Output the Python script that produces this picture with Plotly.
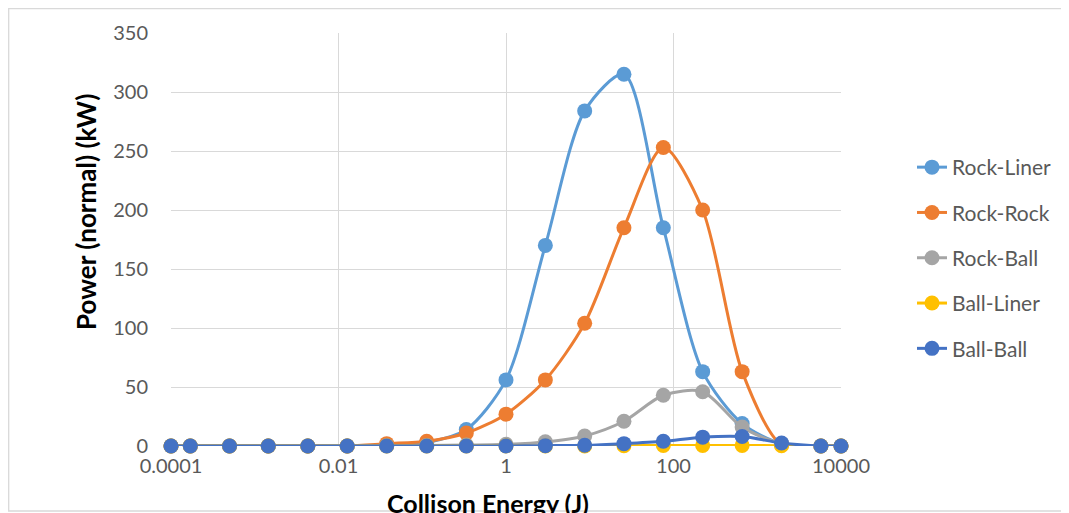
import plotly.graph_objects as go

# Collision energy (J) – x categories (log scale)
energy = [0.0001, 0.00017, 0.0005, 0.00145, 0.0043, 0.0127, 0.0376, 0.113, 0.336,
          1, 2.95, 8.7, 25.6, 75.6, 223, 660, 1950, 5750, 10000]

rock_liner = [0, 0, 0, 0, 0, 0, 0.5, 3, 14, 56, 170, 284, 315, 185, 63, 19, 2, 0, 0]
rock_rock = [0, 0, 0, 0, 0, 0, 2, 4, 11, 27, 56, 104, 185, 253, 200, 63, 1, 0, 0]
rock_ball = [0, 0, 0, 0, 0, 0, 0.3, 0.5, 0.8, 1.5, 3.5, 8.5, 21, 43, 46, 16, 2, 0, 0]
ball_liner = [0, 0, 0, 0, 0, 0, 0, 0, 0, 0, 0, 0, 0.3, 0.4, 0.5, 0.5, 0.3, 0, 0]
ball_ball = [0, 0, 0, 0, 0, 0, 0, 0, 0, 0, 0.3, 0.6, 2, 4, 7.5, 8, 2.5, 0, 0]

series_names = ["Rock-Liner", "Rock-Rock", "Rock-Ball", "Ball-Liner", "Ball-Ball"]
series_values = [rock_liner, rock_rock, rock_ball, ball_liner, ball_ball]
colors = ["#5B9BD5", "#ED7D31", "#A5A5A5", "#FFC000", "#4472C4"]

x_tick_vals = [0.0001, 0.01, 1, 100, 10000]
x_tick_text = ["0.0001", "0.01", "1", "100", "10000"]
y_tick_vals = [0, 50, 100, 150, 200, 250, 300, 350]

FONT = "Lato, Carlito, Calibri, sans-serif"

# page is offset by the browser's 8px body margin
W, H = 1061, 505
L, T, PW, PH = 163, 25, 670, 413
R = W - L - PW
B = H - T - PH


def px(xf):
    return (xf - L) / PW


def py(yf):
    return (T + PH - yf) / PH


fig = go.Figure()
for name, vals, col in zip(series_names, series_values, colors):
    fig.add_trace(go.Scatter(
        x=energy, y=vals, name=name, mode="lines+markers",
        line=dict(color=col, width=3, shape="spline", smoothing=0.8),
        marker=dict(color=col, size=15),
        cliponaxis=False, legendgroup=name,
    ))

fig.update_layout(
    width=W, height=H,
    margin=dict(l=L, r=R, t=T, b=B),
    paper_bgcolor="white", plot_bgcolor="white",
    font=dict(family=FONT, size=20, color="#595959"),
    showlegend=True,
    legend=dict(
        x=px(904), xanchor="left", y=py(250), yanchor="middle",
        font=dict(family=FONT, size=21, color="#595959"),
        tracegroupgap=15, bgcolor="rgba(0,0,0,0)",
    ),
    xaxis=dict(
        type="log", range=[-4, 4],
        tickvals=x_tick_vals, ticktext=x_tick_text,
        showgrid=True, gridcolor="#D9D9D9", gridwidth=1.3,
        zeroline=False, showline=False, ticks="", ticklabelstandoff=6,
        tickfont=dict(family=FONT, size=20, color="#595959"),
    ),
    yaxis=dict(
        range=[0, 350], tickvals=y_tick_vals,
        showgrid=True, gridcolor="#D9D9D9", gridwidth=1.3,
        zeroline=False, showline=False, ticks="", ticklabelstandoff=22,
        tickfont=dict(family=FONT, size=20, color="#595959"),
    ),
    annotations=[
        dict(text="<b>Collison Energy (J)</b>", xref="paper", yref="paper",
             x=px(480), y=py(495), xanchor="center", yanchor="middle",
             showarrow=False, font=dict(family=FONT, size=25, color="black")),
        dict(text="<b>Power (normal) (kW)</b>", xref="paper", yref="paper",
             x=px(78), y=py(204), xanchor="center", yanchor="middle",
             textangle=-90, showarrow=False, font=dict(family=FONT, size=26, color="black")),
    ],
    shapes=[
        dict(type="rect", xref="paper", yref="paper",
             x0=px(0.7), x1=px(1058), y0=py(503), y1=py(0.7),
             line=dict(color="#D9D9D9", width=1.3), layer="below"),
    ],
)

fig.write_html("out.html")
